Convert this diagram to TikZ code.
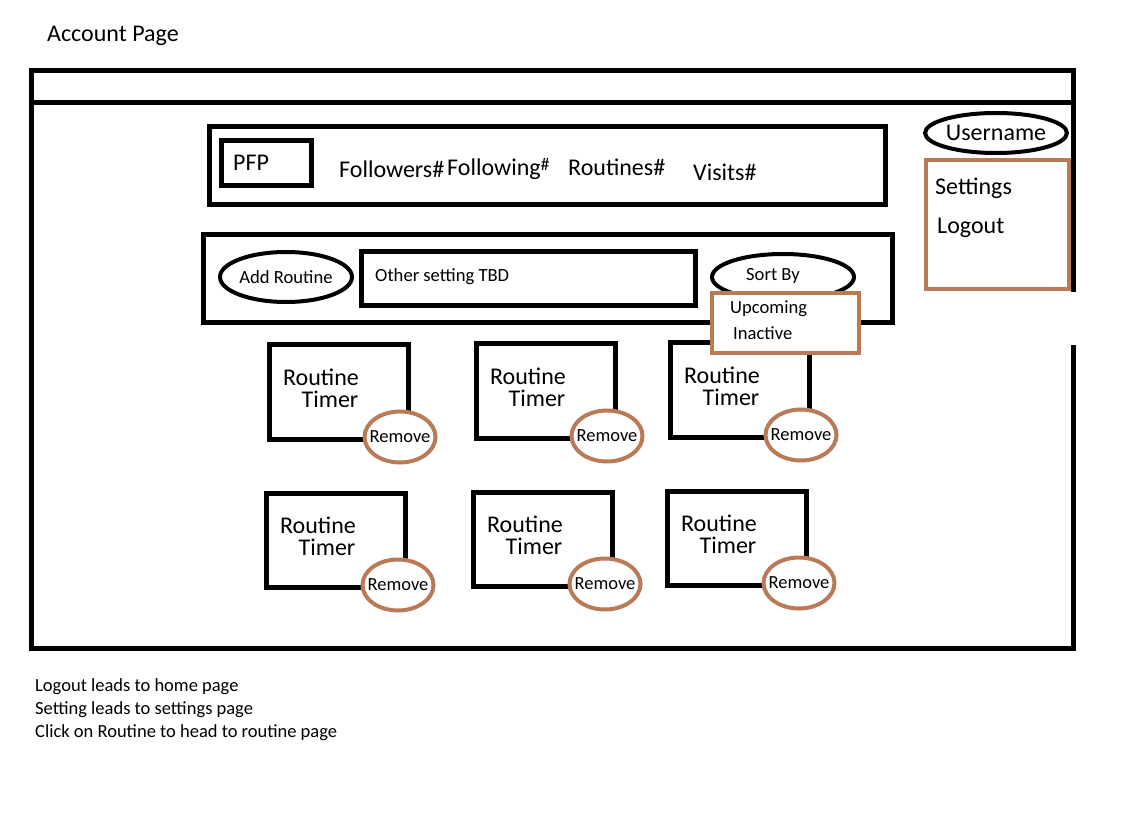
\documentclass[tikz,border=0pt]{standalone}
\usepackage{fontspec}
\setmainfont{Carlito}
\usetikzlibrary{shapes.geometric}
\definecolor{paintbrown}{RGB}{185,122,87}
\tikzset{
  frame/.style={line width=5pt, line join=miter},
  boxblk/.style={draw=black, line width=5pt, rectangle, inner sep=0pt, fill=white},
  boxbrn/.style={draw=paintbrown, line width=4.5pt, rectangle, inner sep=0pt, fill=white},
  ovalblk/.style={draw=black, line width=4pt, ellipse, inner sep=0pt, fill=white},
  removeoval/.style={draw=paintbrown, line width=4pt, ellipse, inner ysep=0pt, inner xsep=-9pt, fill=white,
     minimum width=71pt, minimum height=51pt, font=\fontsize{18.5}{18.5}\selectfont},
  routinebox/.style={boxblk, minimum width=139pt, minimum height=94pt},
  lbl/.style={inner sep=0pt, anchor=west},
  big/.style={font=\fontsize{24}{24}\selectfont},
  mid/.style={font=\fontsize{24}{24}\selectfont},
  small/.style={font=\fontsize{18.6}{18.6}\selectfont},
}
\begin{document}
\begin{tikzpicture}[x=1pt,y=-1pt]
\useasboundingbox (0,0) rectangle (1133,818);

% title
\node[lbl, big] (title) at (47,36) {Account Page};

% outer frame
\coordinate (tl) at (31,71);
\coordinate (tr) at (1073,71);
\coordinate (ml) at (31,103);
\coordinate (mr) at (1073,103);
\coordinate (bl) at (31,648);
\coordinate (br) at (1073,648);
\coordinate (gapA) at (1073,292);
\coordinate (gapB) at (1073,345);
\draw[frame] (ml) -- (tl) -- (tr) -- (gapA);
\draw[frame] (ml) -- (mr);
\draw[frame] (gapB) -- (br) -- (bl) -- (ml);

% header box
\node[boxblk, minimum width=676pt, minimum height=78pt] (header) at (547,166) {};
\node[boxblk, minimum width=90pt, minimum height=45pt] (pfp) at (266,163.5) {};
\node[lbl, mid] (pfpt) at (233,163) {PFP};
\node[lbl, mid] (followers) at (339,169) {Followers\#};
\node[lbl, mid] (following) at (447,169) {Following\raisebox{5pt}{\fontsize{18}{18}\selectfont\#}};
\node[lbl, mid] (routines) at (568,167) {Routines\#};
\node[lbl, mid] (visits) at (693,172) {Visits\#};

% toolbar box
\node[boxblk, minimum width=689pt, minimum height=88pt] (toolbar) at (547.5,279) {};
\node[ovalblk, minimum width=132pt, minimum height=50pt, small] (addr) at (286,277) {Add Routine};
\node[boxblk, minimum width=334pt, minimum height=54pt] (other) at (528,279) {};
\node[lbl, small] (othert) at (375,277) {Other setting TBD};
\node[ovalblk, minimum width=142pt, minimum height=46pt] (sortby) at (783,277) {};
\node[small, inner sep=0pt] (sortbyt) at (773,276) {Sort By};

% routine boxes row 1
\node[routinebox] (r1) at (338.5,392) {};
\node[routinebox] (r2) at (545.5,391) {};
\node[routinebox] (r3) at (739.5,390) {};
% row 2
\node[routinebox] (r4) at (335.5,540) {};
\node[routinebox] (r5) at (542.5,539) {};
\node[routinebox] (r6) at (736.5,538) {};

% routine labels
\node[mid, inner sep=0pt] (r1a) at (321,377) {Routine};
\node[mid, inner sep=0pt] (r1b) at (330,399) {Timer};
\node[mid, inner sep=0pt] (r2a) at (528,376) {Routine};
\node[mid, inner sep=0pt] (r2b) at (537,398) {Timer};
\node[mid, inner sep=0pt] (r3a) at (722,375) {Routine};
\node[mid, inner sep=0pt] (r3b) at (731,397) {Timer};
\node[mid, inner sep=0pt] (r4a) at (318,525) {Routine};
\node[mid, inner sep=0pt] (r4b) at (327,547) {Timer};
\node[mid, inner sep=0pt] (r5a) at (525,524) {Routine};
\node[mid, inner sep=0pt] (r5b) at (534,546) {Timer};
\node[mid, inner sep=0pt] (r6a) at (719,523) {Routine};
\node[mid, inner sep=0pt] (r6b) at (728,545) {Timer};

% remove ovals
\node[removeoval] (rm1) at (400,437) {Remove};
\node[removeoval] (rm2) at (607,436) {Remove};
\node[removeoval] (rm3) at (801,435) {Remove};
\node[removeoval] (rm4) at (398,585) {Remove};
\node[removeoval] (rm5) at (605,584) {Remove};
\node[removeoval] (rm6) at (799,583) {Remove};

% sort dropdown
\node[boxbrn, minimum width=147pt, minimum height=60pt] (drop) at (785.5,323) {};
\node[lbl, small] (upc) at (730,309) {Upcoming};
\node[lbl, small] (inact) at (733,333) {Inactive};

% username / settings
\node[ovalblk, minimum width=140pt, minimum height=40pt, mid] (user) at (996,133) {Username};
\node[boxbrn, minimum width=143pt, minimum height=129pt] (menu) at (997.5,224.5) {};
\node[lbl, mid] (sett) at (935,188) {Settings};
\node[lbl, mid] (logout) at (937,228) {Logout};

% notes
\node[inner sep=0pt, anchor=north west, align=left, font=\fontsize{18.5}{23}\selectfont] (notes) at (35,678)
  {Logout leads to home page\\Setting leads to settings page\\Click on Routine to head to routine page};
\end{tikzpicture}
\end{document}
